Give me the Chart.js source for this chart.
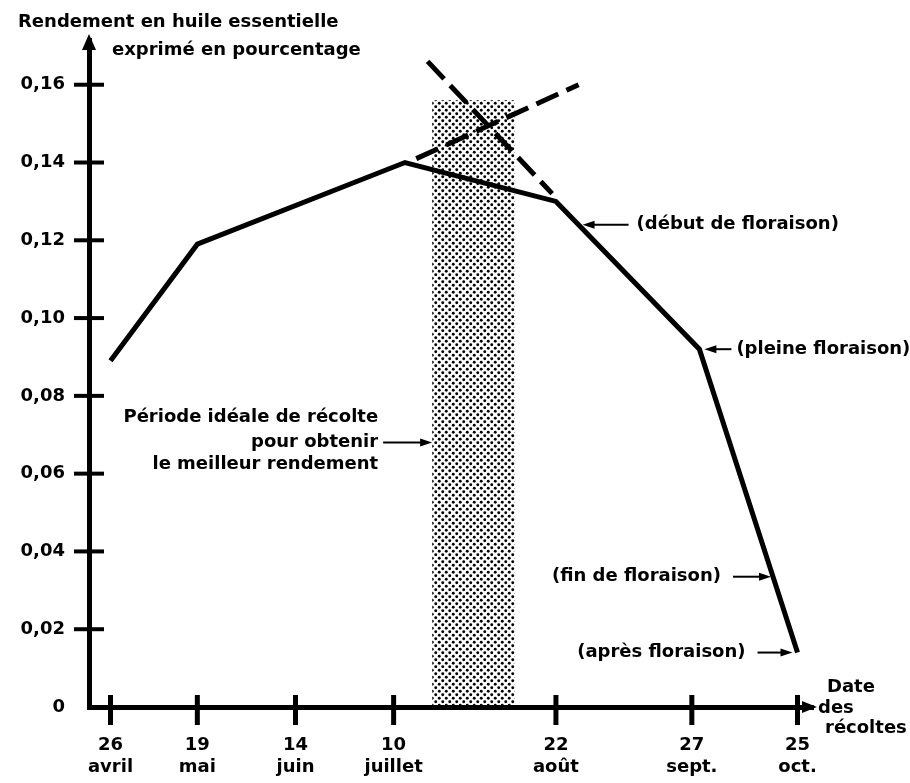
<!DOCTYPE html>
<html lang="fr">
<head>
<meta charset="utf-8">
<title>Rendement en huile essentielle</title>
<script src="https://cdn.jsdelivr.net/npm/chart.js@4.4.0/dist/chart.umd.min.js"></script>
<style>
  html, body { margin: 0; padding: 0; background: #fff; }
  #wrap { width: 910px; height: 783px; }
</style>
</head>
<body>
<div id="wrap"><canvas id="yieldChart" width="910" height="783"></canvas></div>
<script>
// Harvest dates (day of year) and their tick labels
const harvestDays = [116, 139, 165, 191, 234, 270, 298];
const harvestLabels = [['26', 'avril'], ['19', 'mai'], ['14', 'juin'], ['10', 'juillet'], ['22', 'août'], ['27', 'sept.'], ['25', 'oct.']];

// Measured yield curve (% essential oil)
const yieldDays = [116, 139, 194, 234, 272, 298];
const yieldValues = [0.089, 0.119, 0.140, 0.130, 0.092, 0.014];

// Dashed trend extensions
const riseDays = [197, 240];
const riseValues = [0.141, 0.160];
const fallDays = [200, 233];
const fallValues = [0.166, 0.132];

// Ideal harvest period (shaded)
const idealDays = [201.2, 223.2];
const idealTop = [0.156, 0.156];

const yTicks = [0, 0.02, 0.04, 0.06, 0.08, 0.10, 0.12, 0.14, 0.16];

const FONT = 'bold 18px "DejaVu Sans"';

function pts(xs, ys) {
    return xs.map((x, i) => ({ x: x, y: ys[i] }));
}

// value of the yield curve at a given day
function yieldAt(day) {
    for (let i = 0; i < yieldDays.length - 1; i++) {
        if (day >= yieldDays[i] && day <= yieldDays[i + 1]) {
            const t = (day - yieldDays[i]) / (yieldDays[i + 1] - yieldDays[i]);
            return yieldValues[i] + t * (yieldValues[i + 1] - yieldValues[i]);
        }
    }
    return yieldValues[yieldValues.length - 1];
}

// halftone dots for the shaded period
function dotPattern() {
    const c = document.createElement('canvas');
    c.width = 7; c.height = 7;
    const g = c.getContext('2d');
    g.fillStyle = '#000';
    [[1.75, 1.75], [5.25, 5.25]].forEach(([x, y]) => {
        g.beginPath();
        g.arc(x, y, 1.45, 0, Math.PI * 2);
        g.fill();
    });
    return g.createPattern(c, 'repeat');
}

// Arrow annotations
const notes = [
    { lines: ['(début de floraison)'], day: 240, side: 'right', gap: 4, len: 46, space: 8 },
    { lines: ['(pleine floraison)'], day: 272, side: 'right', gap: 5, len: 27, space: 5 },
    { lines: ['(fin de floraison)'], day: 291.5, side: 'left', gap: 2, len: 38, space: 12 },
    { lines: ['(après floraison)'], day: 298, side: 'left', gap: 5, len: 35, space: 12 },
    { lines: ['Période idéale de récolte', 'pour obtenir', 'le meilleur rendement'], day: idealDays[0], value: 0.068,
      side: 'left', gap: 0, len: 49, space: 5, offsets: [-25, 0, 22] }
];

function arrow(ctx, x1, y1, x2, y2) {
    const dir = Math.sign(x2 - x1);
    ctx.lineWidth = 2;
    ctx.beginPath();
    ctx.moveTo(x1, y1);
    ctx.lineTo(x2 - dir * 8, y2);
    ctx.stroke();
    ctx.beginPath();
    ctx.moveTo(x2, y2);
    ctx.lineTo(x2 - dir * 12, y2 - 4);
    ctx.lineTo(x2 - dir * 12, y2 + 4);
    ctx.closePath();
    ctx.fill();
}

const decorPlugin = {
    id: 'decor',
    afterDraw(chart) {
        const ctx = chart.ctx;
        const xs = chart.scales.x, ys = chart.scales.y;
        const area = chart.chartArea;
        ctx.save();
        ctx.strokeStyle = '#000';
        ctx.fillStyle = '#000';
        ctx.lineCap = 'butt';

        // tick crosses on the y axis
        ctx.lineWidth = 4;
        yTicks.forEach(v => {
            if (v === 0) return;
            const py = ys.getPixelForValue(v);
            ctx.beginPath();
            ctx.moveTo(area.left - 15, py);
            ctx.lineTo(area.left + 15, py);
            ctx.stroke();
        });
        // tick crosses on the x axis
        ctx.lineWidth = 5;
        harvestDays.forEach(d => {
            const px = xs.getPixelForValue(d);
            ctx.beginPath();
            ctx.moveTo(px, area.bottom - 12);
            ctx.lineTo(px, area.bottom + 18);
            ctx.stroke();
        });

        // axis arrowheads
        ctx.beginPath();
        ctx.moveTo(area.left, area.top - 6);
        ctx.lineTo(area.left - 7, area.top + 10);
        ctx.lineTo(area.left + 7, area.top + 10);
        ctx.closePath();
        ctx.fill();
        ctx.beginPath();
        ctx.moveTo(area.right + 4, area.bottom);
        ctx.lineTo(area.right - 11, area.bottom - 6);
        ctx.lineTo(area.right - 11, area.bottom + 6);
        ctx.closePath();
        ctx.fill();

        // axis titles
        ctx.font = FONT;
        ctx.textBaseline = 'middle';
        ctx.textAlign = 'left';
        ctx.fillText('Rendement en huile essentielle', 18, 22);
        ctx.fillText('exprimé en pourcentage', 112, 50);
        ctx.fillText('Date', 827, area.bottom - 20);
        ctx.fillText('des', 818, area.bottom + 1);
        ctx.fillText('récoltes', 825, area.bottom + 21);

        // annotations
        notes.forEach(n => {
            const val = n.value !== undefined ? n.value : yieldAt(n.day);
            const tx = xs.getPixelForValue(n.day);
            const ty = ys.getPixelForValue(val);
            const dir = n.side === 'right' ? 1 : -1;
            const tip = tx + dir * n.gap;
            const tail = tip + dir * n.len;
            arrow(ctx, tail, ty, tip, ty);
            ctx.textAlign = n.side === 'right' ? 'left' : 'right';
            const offs = n.offsets || [0];
            n.lines.forEach((s, i) => {
                ctx.fillText(s, tail + dir * n.space, ty + offs[i]);
            });
        });
        ctx.restore();
    }
};

const tickFont = { family: 'DejaVu Sans', size: 18, weight: 'bold', lineHeight: 1.2 };

new Chart(document.getElementById('yieldChart').getContext('2d'), {
    type: 'line',
    data: {
        datasets: [
            {
                label: 'Rendement',
                data: pts(yieldDays, yieldValues),
                borderColor: '#000',
                borderWidth: 5,
                pointRadius: 0,
                tension: 0,
                fill: false
            },
            {
                label: 'Tendance montante',
                data: pts(riseDays, riseValues),
                borderColor: '#000',
                borderWidth: 5,
                borderDash: [24, 9],
                pointRadius: 0,
                fill: false
            },
            {
                label: 'Tendance descendante',
                data: pts(fallDays, fallValues),
                borderColor: '#000',
                borderWidth: 5,
                borderDash: [24, 9],
                pointRadius: 0,
                fill: false
            },
            {
                label: 'Période idéale',
                data: pts(idealDays, idealTop),
                borderWidth: 0,
                pointRadius: 0,
                backgroundColor: dotPattern(),
                fill: 'origin'
            }
        ]
    },
    options: {
        responsive: false,
        animation: false,
        events: [],
        layout: { padding: { top: 40, right: 97, bottom: 0, left: 0 } },
        plugins: {
            legend: { display: false },
            tooltip: { enabled: false }
        },
        scales: {
            x: {
                type: 'linear',
                min: 110.3,
                max: 302.1,
                afterBuildTicks: s => { s.ticks = harvestDays.map(v => ({ value: v })); },
                afterFit: s => { s.height = 76; },
                grid: { display: false, drawTicks: false },
                border: { display: true, color: '#000', width: 5 },
                ticks: {
                    autoSkip: false,
                    maxRotation: 0,
                    padding: 28,
                    color: '#000',
                    font: tickFont,
                    callback: (v, i) => harvestLabels[i]
                }
            },
            y: {
                type: 'linear',
                min: 0,
                max: 0.1715,
                afterBuildTicks: s => { s.ticks = yTicks.map(v => ({ value: v })); },
                afterFit: s => { s.width = 89; },
                grid: { display: false, drawTicks: false },
                border: { display: true, color: '#000', width: 5 },
                ticks: {
                    padding: 24,
                    color: '#000',
                    font: tickFont,
                    callback: v => v === 0 ? '0' : v.toFixed(2).replace('.', ',')
                }
            }
        }
    },
    plugins: [decorPlugin]
});
</script>
</body>
</html>
